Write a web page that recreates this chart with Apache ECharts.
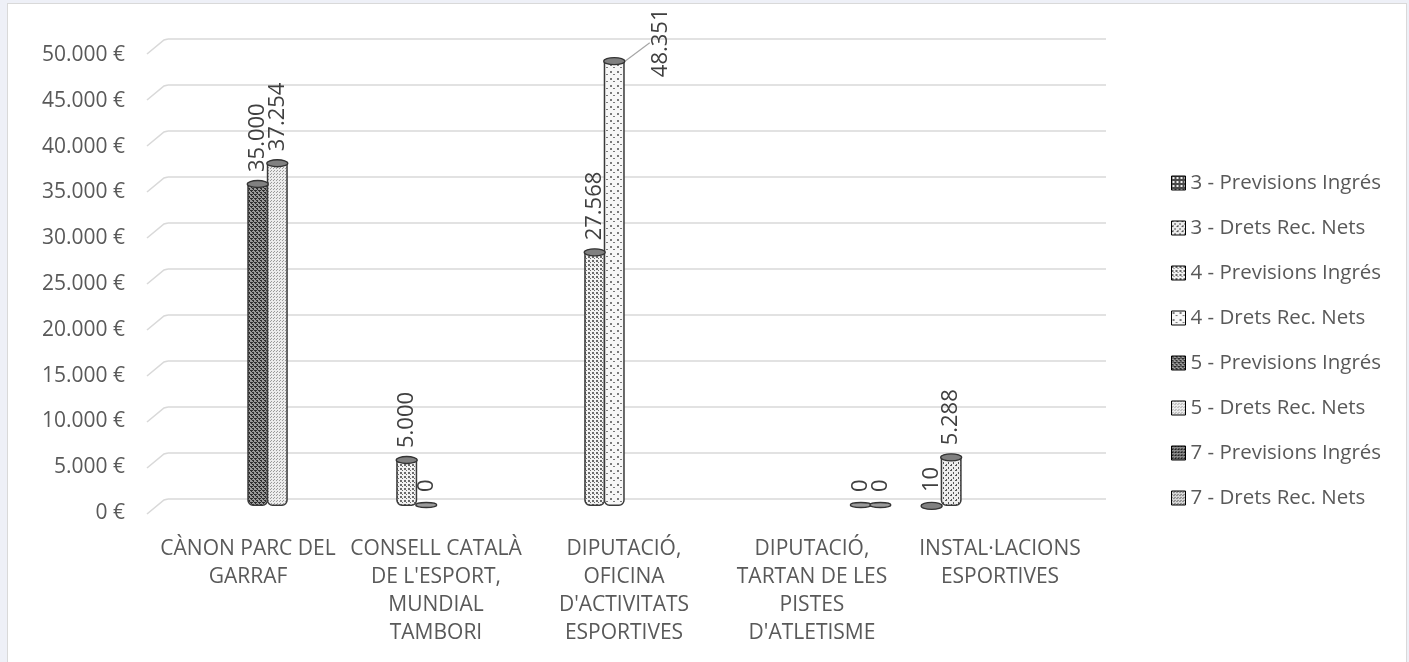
<!DOCTYPE html>
<html><head><meta charset="utf-8">
<script src="https://cdn.jsdelivr.net/npm/echarts@6/dist/echarts.min.js"></script>
<style>
html,body{margin:0;padding:0;width:1409px;height:662px;overflow:hidden;background:#eef0f7;}
#frame{position:absolute;left:7px;top:3px;width:1400px;height:680px;background:#fff;border:1px solid #d9d9d9;box-sizing:border-box;}
#chart{position:absolute;left:0;top:0;width:1409px;height:662px;}
</style></head><body>
<div id="frame"></div><div id="chart"></div>
<script>
// ---- data ----
const categories = ["CÀNON PARC DEL GARRAF", "CONSELL CATALÀ DE L'ESPORT, MUNDIAL TAMBORI", "DIPUTACIÓ, OFICINA D'ACTIVITATS ESPORTIVES", "DIPUTACIÓ, TARTAN DE LES PISTES D'ATLETISME", "INSTAL·LACIONS ESPORTIVES"];
const categoryLabels = ["CÀNON PARC DEL\nGARRAF", "CONSELL CATALÀ\nDE L'ESPORT,\nMUNDIAL\nTAMBORI", "DIPUTACIÓ,\nOFICINA\nD'ACTIVITATS\nESPORTIVES", "DIPUTACIÓ,\nTARTAN DE LES\nPISTES\nD'ATLETISME", "INSTAL·LACIONS\nESPORTIVES"];
const seriesNames = ["3 - Previsions Ingrés", "3 - Drets Rec. Nets", "4 - Previsions Ingrés", "4 - Drets Rec. Nets", "5 - Previsions Ingrés", "5 - Drets Rec. Nets", "7 - Previsions Ingrés", "7 - Drets Rec. Nets"];
const s3Previsions = [null, null, null, null, 10];
const s3Drets      = [null, null, null, null, 5288];
const s4Previsions = [null, 5000, 27568, null, null];
const s4Drets      = [null, 0, 48351, null, null];
const s5Previsions = [35000, null, null, null, null];
const s5Drets      = [37254, null, null, null, null];
const s7Previsions = [null, null, null, 0, null];
const s7Drets      = [null, null, null, 0, null];
const yTicks = [0, 5000, 10000, 15000, 20000, 25000, 30000, 35000, 40000, 45000, 50000];
const yTickLabels = ["0 €", "5.000 €", "10.000 €", "15.000 €", "20.000 €", "25.000 €", "30.000 €", "35.000 €", "40.000 €", "45.000 €", "50.000 €"];

const seriesValues = [s3Previsions, s3Drets, s4Previsions, s4Drets, s5Previsions, s5Drets, s7Previsions, s7Drets];

// ---- pattern fills (style only) ----
function pattern(bg, fg, size, dots) {
  const c = document.createElement('canvas');
  c.width = c.height = size;
  const g = c.getContext('2d');
  g.fillStyle = bg; g.fillRect(0, 0, size, size);
  g.fillStyle = fg;
  dots.forEach(d => g.fillRect(d[0], d[1], d[2] || 1, d[3] || 1));
  return { image: c, repeat: 'repeat' };
}
const fills = [
  pattern('#4a4a4a', '#f0f0f0', 4, [[1,1,2,2]]),
  pattern('#ededed', '#555555', 5, [[0,0,2,1],[3,2,1,2],[1,4]]),
  pattern('#f2f2f2', '#6a6a6a', 4, [[0,0,2,2],[2,2,1,1]]),
  pattern('#f7f7f7', '#7a7a7a', 7, [[1,1,2,2],[4,4,2,1]]),
  pattern('#9a9a9a', '#2e2e2e', 4, [[0,0,2,1],[2,2,2,1],[1,1],[3,3],[0,2,1,1]]),
  pattern('#ececec', '#9a9a9a', 3, [[0,0],[1,2]]),
  pattern('#8a8a8a', '#222222', 3, [[0,0,2,1],[1,2]]),
  pattern('#d6d6d6', '#555555', 3, [[0,0],[2,1]])
];

const BAR_W = 21, BAR_GAP = -0.07;
const labelFont = { fontFamily: 'Open Sans', fontSize: 22, color: '#404040' };

const barSeries = seriesValues.map((vals, i) => ({
  name: seriesNames[i],
  type: 'bar',
  xAxisIndex: 1, yAxisIndex: 1,
  barWidth: BAR_W,
  barGap: (BAR_GAP * 100) + '%',
  barMinHeight: 2,
  z: 3,
  data: vals.map((v, j) => {
    if (i === 3 && j === 2) {
      return { value: v, labelLine: { show: true, lineStyle: { color: '#a6a6a6', width: 1.2 } } };
    }
    return v;
  }),
  itemStyle: { color: fills[i], borderColor: '#3a3a3a', borderWidth: 1.5, borderRadius: [0, 0, 5, 5] },
  label: Object.assign({ show: true, position: 'top', rotate: 90, align: 'left', verticalAlign: 'middle', distance: 12, formatter: p => (p.value == null ? '' : p.value.toLocaleString('de-DE')) }, labelFont),
  labelLine: { show: false },
  labelLayout: (i === 3) ? function (p) {
    if (p.dataIndex === 2) return { x: p.rect.x + p.rect.width + 36, y: p.rect.y + 16 };
  } : undefined,
  emphasis: { disabled: true }
}));

// cylinder caps drawn on top of each bar from the same data
const capData = [];
seriesValues.forEach((vals, i) => vals.forEach((v, j) => { if (v != null) capData.push([j, v, i]); }));
const capSeries = {
  type: 'custom',
  xAxisIndex: 1, yAxisIndex: 1,
  silent: true, z: 4,
  data: capData,
  encode: { x: 0, y: 1 },
  renderItem: function (params, api) {
    const p = api.coord([api.value(0), api.value(1)]);
    const step = BAR_W * (1 + BAR_GAP);
    const cx = p[0] + (api.value(2) - 3.5) * step;
    const flat = api.value(1) === 0;
    return { type: 'ellipse', shape: { cx: cx, cy: flat ? p[1] - 1 : p[1], rx: BAR_W / 2, ry: flat ? 2.5 : 3.5 },
      style: { fill: flat ? '#9a9a9a' : '#808080', stroke: '#333', lineWidth: 1.3 } };
  }
};

const slantSeries = {
  type: 'custom',
  xAxisIndex: 0, yAxisIndex: 0,
  silent: true, z: 1,
  data: yTicks.map(v => [0, v]),
  encode: { x: 0, y: 1 },
  renderItem: function (params, api) {
    const p = api.coord([api.value(0), api.value(1)]);
    return { type: 'polyline', shape: { points: [[p[0] - 21, p[1] + 15], [p[0] - 4, p[1] + 1], [p[0], p[1]]] }, style: { stroke: '#d9d9d9', lineWidth: 1.6, fill: null } };
  }
};

const chart = echarts.init(document.getElementById('chart'), null, { renderer: 'canvas' });
chart.setOption({
  animation: false,
  backgroundColor: 'transparent',
  grid: [
    { left: 168, right: 303, top: 39, bottom: 163 },   // back wall (gridlines)
    { left: 154, right: 315, top: 46, bottom: 156 },   // bars
    { left: 147, right: 315, top: 55, bottom: 149 }    // front (value labels)
  ],
  xAxis: [
    { gridIndex: 0, type: 'value', min: 0, max: 1, show: false },
    { gridIndex: 1, type: 'category', data: categories,
      axisLine: { show: false }, axisTick: { show: false },
      axisLabel: { interval: 0, margin: 29, lineHeight: 28, fontFamily: 'Open Sans', fontSize: 21, color: '#595959',
        formatter: (v, idx) => categoryLabels[idx] } },
    { gridIndex: 2, type: 'category', data: categories, show: false }
  ],
  yAxis: [
    { gridIndex: 0, type: 'value', min: 0, max: 50000, interval: 5000,
      axisLine: { show: false }, axisTick: { show: false }, axisLabel: { show: false },
      splitLine: { show: true, lineStyle: { color: '#d9d9d9', width: 1.6 } } },
    { gridIndex: 1, type: 'value', min: 0, max: 50000, interval: 5000, show: false, splitLine: { show: false } },
    { gridIndex: 2, type: 'value', min: 0, max: 50000, interval: 5000,
      axisLine: { show: false }, axisTick: { show: false }, splitLine: { show: false },
      axisLabel: { margin: 22, fontFamily: 'Open Sans', fontSize: 21, color: '#595959',
        formatter: v => yTickLabels[yTicks.indexOf(v)] } }
  ],
  legend: {
    orient: 'vertical', left: 1166, top: 167,
    itemWidth: 14, itemHeight: 14, itemGap: 23,
    icon: 'rect',
    data: seriesNames,
    selectedMode: false,
    itemStyle: { borderColor: '#000', borderWidth: 1 },
    textStyle: { fontFamily: 'Open Sans', fontSize: 20.5, color: '#595959', lineHeight: 22 }
  },
  series: [slantSeries].concat(barSeries, [capSeries])
});
</script>
</body></html>
